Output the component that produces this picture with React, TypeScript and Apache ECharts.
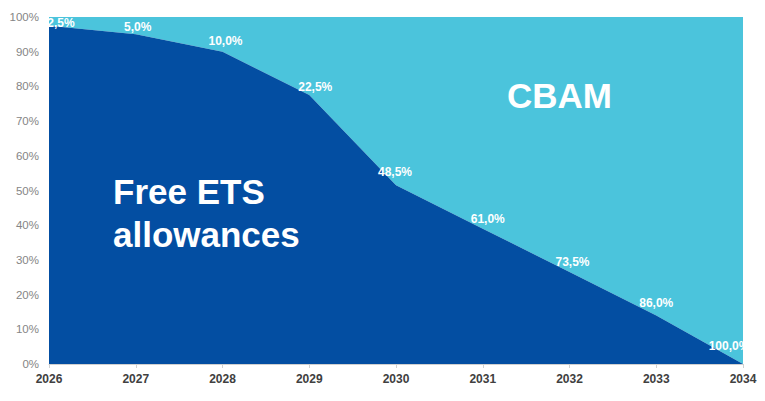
import React, { useEffect, useRef } from "react";
import * as echarts from "echarts";

// Phase-in years
const years = ["2026", "2027", "2028", "2029", "2030", "2031", "2032", "2033", "2034"];
// CBAM share (%) per year
const cbamShare = [2.5, 5.0, 10.0, 22.5, 48.5, 61.0, 73.5, 86.0, 100.0];
// Remaining free ETS allowances (%)
const freeShare = cbamShare.map((v) => 100 - v);

// Label nudges so the percentages sit just above the boundary
const labelOffsets: [number, number][] = [
  [12, 3], [2, -1], [3, -5], [6, -2], [-1, -7], [5, -4], [3, -4], [0, -6], [-14, -12],
];

const DARK = "#034EA2";
const LIGHT = "#4BC4DC";

export default function App() {
  const ref = useRef<HTMLDivElement>(null);
  useEffect(() => {
    if (!ref.current) return;
    const chart = echarts.init(ref.current, undefined, { renderer: "svg" });
    chart.setOption({
      animation: false,
      grid: { left: 49, right: 22, top: 17, bottom: 37 },
      xAxis: {
        type: "category",
        data: years,
        boundaryGap: false,
        axisLine: { show: true, lineStyle: { color: "#d0d0d0" } },
        axisTick: { show: true, length: 4, lineStyle: { color: "#d0d0d0" } },
        axisLabel: {
          color: "#404040",
          fontFamily: "Liberation Sans, Arial, sans-serif",
          fontWeight: "bold",
          fontSize: 12,
          margin: 9,
        },
        z: 10,
      },
      yAxis: {
        type: "value",
        min: 0,
        max: 100,
        interval: 10,
        splitLine: { show: false },
        axisLine: { show: false },
        axisTick: { show: false },
        axisLabel: {
          formatter: "{value}%",
          color: "#858585",
          fontFamily: "Liberation Sans, Arial, sans-serif",
          fontSize: 11.5,
          margin: 10,
        },
      },
      series: [
        {
          name: "Free ETS allowances",
          type: "line",
          stack: "total",
          data: freeShare.map((v, i) => ({
            value: v,
            label: { offset: labelOffsets[i] },
          })),
          symbol: "circle",
          symbolSize: 0,
          showSymbol: true,
          lineStyle: { width: 0 },
          areaStyle: { color: DARK, opacity: 1 },
          itemStyle: { color: DARK },
          label: {
            show: true,
            position: "top",
            distance: 0,
            color: "#ffffff",
            fontWeight: "bold",
            fontSize: 12,
            fontFamily: "Liberation Sans, Arial, sans-serif",
            formatter: (p: any) => cbamShare[p.dataIndex].toFixed(1).replace(".", ",") + "%",
          },
          z: 3,
        },
        {
          name: "CBAM",
          type: "line",
          stack: "total",
          data: cbamShare,
          symbol: "none",
          lineStyle: { width: 0 },
          areaStyle: { color: LIGHT, opacity: 1 },
          itemStyle: { color: LIGHT },
          z: 2,
        },
      ],
      graphic: [
        {
          type: "text",
          left: 113,
          top: 170,
          style: {
            text: "Free ETS\nallowances",
            fill: "#ffffff",
            font: "bold 35px Liberation Sans, Arial, sans-serif",
            lineHeight: 43,
          },
          z: 20,
        },
        {
          type: "text",
          left: 507,
          top: 78,
          style: {
            text: "CBAM",
            fill: "#ffffff",
            font: "bold 35px Liberation Sans, Arial, sans-serif",
          },
          z: 20,
        },
      ],
    });
    return () => chart.dispose();
  }, []);
  return (
    <div
      ref={ref}
      style={{ position: "absolute", left: 0, top: 0, width: 765, height: 401 }}
    />
  );
}
